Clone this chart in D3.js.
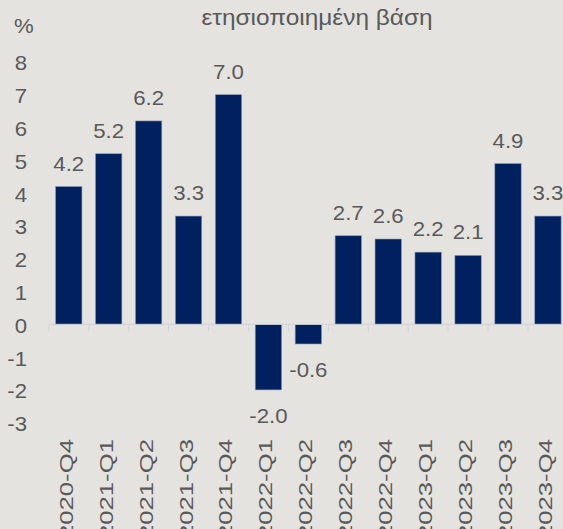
<!DOCTYPE html>
<html>
<head>
<meta charset="utf-8">
<script src="https://d3js.org/d3.v7.min.js"></script>
<style>
	body { margin: 0; background: #e4e3df; }
	svg { display: block; }
	text { font-family: 'Liberation Sans', Arial, sans-serif; fill: #595959; }
</style>
</head>
<body>
<div id="chart"></div>
<script>
	const quarters = ['2020-Q4','2021-Q1','2021-Q2','2021-Q3','2021-Q4','2022-Q1','2022-Q2',
		'2022-Q3','2022-Q4','2023-Q1','2023-Q2','2023-Q3','2023-Q4']
	const growth = [4.2, 5.2, 6.2, 3.3, 7.0, -2.0, -0.6, 2.7, 2.6, 2.2, 2.1, 4.9, 3.3]
	const yTicks = [8, 7, 6, 5, 4, 3, 2, 1, 0, -1, -2, -3]
	const titleLine = 'ετησιοποιημένη βάση'
	const unitLabel = '%'

	const w = 563, h = 529
	const stretch = 1.11   // text in the picture is a little wider than normal

	const svg = d3.select('#chart').append('svg')
		.attr('width', w)
		.attr('height', h)

	svg.append('rect').attr('width', w).attr('height', h).attr('fill', '#e4e3df')

	const k = 32.8, zeroY = 324.3
	const y = d3.scaleLinear().domain([-3, 8]).range([zeroY + 3*k, zeroY - 8*k])
	const x = d3.scaleBand().domain(quarters).range([48.8, 567.9])
		.paddingInner(0.34).paddingOuter(0.17)

	// title (second line only, first one is cut off)
	svg.append('text')
		.attr('transform', 'translate(317,25) scale(' + stretch + ',1)')
		.attr('text-anchor', 'middle')
		.style('font-size', '22px')
		.text(titleLine)

	svg.append('text')
		.attr('transform', 'translate(14,33) scale(' + stretch + ',1)')
		.style('font-size', '20px')
		.text(unitLabel)

	// y tick labels, no axis line
	svg.append('g').selectAll('text')
		.data(yTicks)
		.enter().append('text')
		.attr('transform', d => 'translate(27,' + (y(d) + 1.4) + ') scale(' + stretch + ',1)')
		.attr('text-anchor', 'end')
		.attr('dy', '0.35em')
		.style('font-size', '20px')
		.text(d => d)

	// bars
	svg.append('g').selectAll('rect')
		.data(growth)
		.enter().append('rect')
		.attr('x', (d, i) => x(quarters[i]))
		.attr('width', x.bandwidth())
		.attr('y', d => y(Math.max(0, d)))
		.attr('height', d => Math.abs(y(d) - y(0)))
		.attr('fill', '#00205f')
		.attr('stroke', '#8a97b5')
		.attr('stroke-width', 0.6)

	// zero axis with ticks between categories
	const axis = svg.append('g').attr('transform', 'translate(0,' + y(0) + ')')
	axis.append('line')
		.attr('x1', x.range()[0]).attr('x2', w)
		.attr('stroke', '#d2d3d8').attr('stroke-width', 1)
	axis.selectAll('line.tick')
		.data(quarters)
		.enter().append('line')
		.attr('class', 'tick')
		.attr('x1', d => x(d) - x.step()*x.paddingInner()/2)
		.attr('x2', d => x(d) - x.step()*x.paddingInner()/2)
		.attr('y1', 0).attr('y2', 7)
		.attr('stroke', '#d2d3d8').attr('stroke-width', 1)

	// value labels
	svg.append('g').selectAll('text')
		.data(growth)
		.enter().append('text')
		.attr('transform', (d, i) => {
			const cx = x(quarters[i]) + x.bandwidth()/2
			const ty = d >= 0 ? y(d) - 16 : y(d) + 33.5
			return 'translate(' + cx + ',' + ty + ') scale(' + stretch + ',1)'
		})
		.attr('text-anchor', 'middle')
		.style('font-size', '20px')
		.text(d => d.toFixed(1))

	// category labels, rotated (cut off at the bottom edge as in the source)
	svg.append('g').selectAll('text')
		.data(quarters)
		.enter().append('text')
		.attr('transform', d => 'translate(' + (x(d) + x.bandwidth()/2 + 4) + ',439) rotate(-90) scale(1.43,1)')
		.attr('text-anchor', 'end')
		.style('font-size', '18px')
		.text(d => d)
</script>
</body>
</html>
